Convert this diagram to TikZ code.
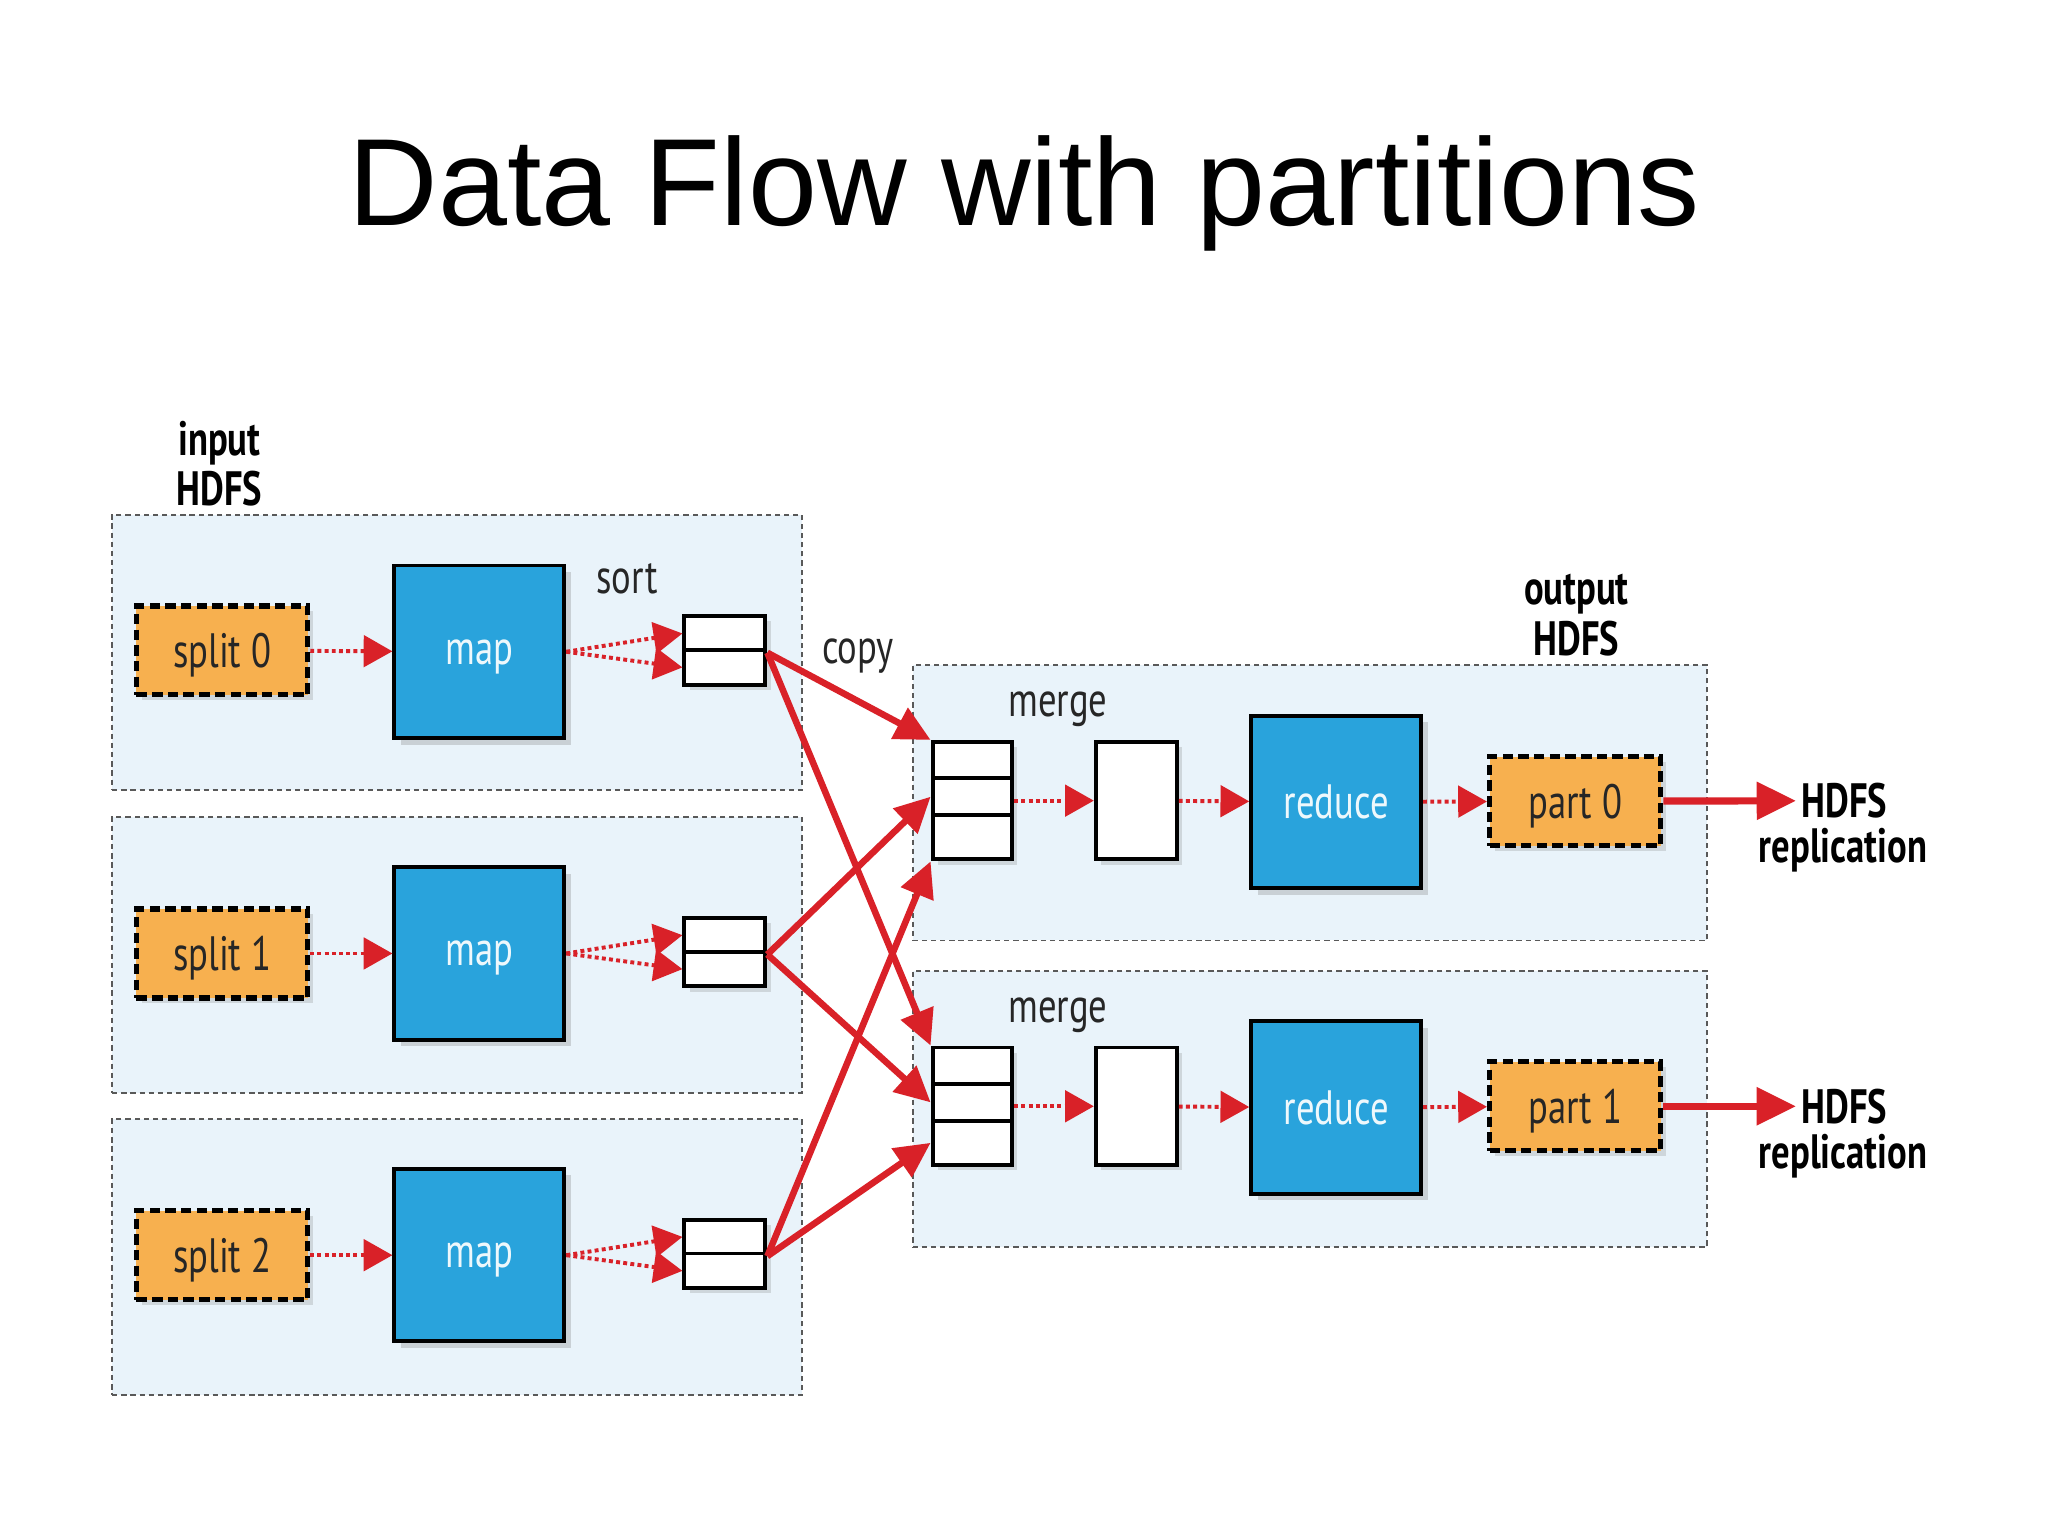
\documentclass[tikz,border=0pt]{standalone}
\usepackage{fontspec}
\setmainfont{Liberation Sans}
\newfontfamily\diagfont[FakeStretch=0.76]{PT Sans}
\usetikzlibrary{arrows.meta,shadows,calc}

\definecolor{bgblue}{RGB}{233,243,250}
\definecolor{mapblue}{RGB}{41,163,220}
\definecolor{splitorange}{RGB}{247,176,79}
\definecolor{flowred}{RGB}{217,33,40}

\begin{document}
\begin{tikzpicture}[x=0.01cm,y=-0.01cm,
  region/.style={draw=black!65,line width=0.015cm,dash pattern=on 0.04cm off 0.03cm,fill=bgblue,minimum height=2.11cm,inner sep=0pt},
  lab/.style={font=\diagfont\fontsize{10.5}{11}\selectfont,text=black!85,inner sep=1pt,align=center},
  boldlab/.style={lab,font=\diagfont\bfseries\fontsize{10.5}{11}\selectfont,text=black},
  splitbox/.style={lab,text depth=0pt,draw=black,fill=splitorange,line width=0.04cm,dash pattern=on 0.08cm off 0.04cm,minimum width=1.31cm,minimum height=0.68cm,drop shadow={shadow xshift=0.04cm,shadow yshift=-0.04cm,opacity=0.25}},
  mapbox/.style={lab,text depth=0pt,draw=black,fill=mapblue,text=white!92!mapblue,line width=0.03cm,minimum width=1.30cm,minimum height=1.32cm,drop shadow={shadow xshift=0.05cm,shadow yshift=-0.05cm,opacity=0.3}},
  cell/.style={draw=black,fill=white,line width=0.03cm,minimum width=0.62cm,inner sep=0pt,drop shadow={shadow xshift=0.04cm,shadow yshift=-0.04cm,opacity=0.25}},
  dotarrow/.style={draw=flowred,line width=0.03cm,dash pattern=on 0.03cm off 0.025cm,-{Triangle[length=0.22cm,width=0.24cm]}},
  copyarrow/.style={draw=flowred,line width=0.05cm,-{Triangle[length=0.27cm,width=0.26cm]}},
  outarrow/.style={draw=flowred,line width=0.055cm,-{Triangle[length=0.3cm,width=0.28cm]}}]
  \useasboundingbox (0,0) rectangle (1568,1176);
  % title
  \node[font=\fontsize{27}{32}\selectfont] (title) at (784,148) {Data Flow with partitions};
  % regions
  \node[region,minimum width=5.28cm] (in0) at (350,499.5) {};
  \node[region,minimum width=5.28cm] (in1) at (350,731) {};
  \node[region,minimum width=5.28cm] (in2) at (350,962.5) {};
  \node[region,minimum width=6.08cm] (out0) at (1003,614.5) {};
  \node[region,minimum width=6.08cm] (out1) at (1003,849) {};
  % labels
  \node[boldlab] (inlab) at (168,355) {input\\HDFS};
  \node[boldlab] (outlab) at (1207,471) {output\\HDFS};
  \node[lab] (sortlab) at (480,443) {sort};
  \node[lab] (copylab) at (657,502) {copy};
  \node[lab] (mlab0) at (810,543) {merge};
  \node[lab] (mlab1) at (810,777) {merge};
  % map side
  \node[splitbox] (sp0) at (170,498) {split 0};
  \node[splitbox] (sp1) at (170,730) {split 1};
  \node[splitbox] (sp2) at (170,961) {split 2};
  \node[mapbox] (mp0) at (367,499) {map};
  \node[mapbox] (mp1) at (367,730) {map};
  \node[mapbox] (mp2) at (367,961) {map};
  \node[cell,minimum height=0.265cm] (s0a) at (555,485) {};
  \node[cell,minimum height=0.265cm] (s0b) at (555,511) {};
  \node[cell,minimum height=0.265cm] (s1a) at (555,716) {};
  \node[cell,minimum height=0.265cm] (s1b) at (555,742) {};
  \node[cell,minimum height=0.265cm] (s2a) at (555,947) {};
  \node[cell,minimum height=0.265cm] (s2b) at (555,973) {};
  % reduce side
  \node[cell,minimum width=0.61cm,minimum height=0.28cm] (mg0a) at (744.5,582) {};
  \node[cell,minimum width=0.61cm,minimum height=0.28cm] (mg0b) at (744.5,610) {};
  \node[cell,minimum width=0.61cm,minimum height=0.34cm] (mg0c) at (744.5,641) {};
  \node[cell,minimum width=0.61cm,minimum height=0.28cm] (mg1a) at (744.5,816) {};
  \node[cell,minimum width=0.61cm,minimum height=0.28cm] (mg1b) at (744.5,844) {};
  \node[cell,minimum width=0.61cm,minimum height=0.34cm] (mg1c) at (744.5,875) {};
  \node[cell,minimum height=0.90cm] (wr0) at (870,613) {};
  \node[cell,minimum height=0.90cm] (wr1) at (870,847) {};
  \node[mapbox] (rd0) at (1023,614) {reduce};
  \node[mapbox] (rd1) at (1023,848) {reduce};
  \node[splitbox] (pt0) at (1206,613.5) {part 0};
  \node[splitbox] (pt1) at (1206,847) {part 1};
  \node[boldlab] (hd0) at (1412,613) {HDFS};
  \node[boldlab] (rp0) at (1411,651) {replication};
  \node[boldlab] (hd1) at (1412,847) {HDFS};
  \node[boldlab] (rp1) at (1411,885) {replication};
  % arrows
  \path [every edge/.append style=dotarrow] (sp0) edge (mp0) (mp0.east) edge (s0a.west) (mp0.east) edge (s0b.west);
  \path [every edge/.append style=dotarrow] (sp1) edge (mp1) (mp1.east) edge (s1a.west) (mp1.east) edge (s1b.west);
  \path [every edge/.append style=dotarrow] (sp2) edge (mp2) (mp2.east) edge (s2a.west) (mp2.east) edge (s2b.west);
  \path [every edge/.append style=copyarrow] (s0a.south east) edge (mg0a.north west) (s0a.south east) edge (mg1a.north west);
  \path [every edge/.append style=copyarrow] (s1a.south east) edge (mg0b.west) (s1a.south east) edge (mg1b.west);
  \path [every edge/.append style=copyarrow] (s2a.south east) edge (mg0c.south west) (s2a.south east) edge (mg1c.west);
  \path [every edge/.append style=dotarrow] (mg0b.east |- wr0) edge (wr0) (wr0) edge (rd0) (rd0) edge (pt0);
  \path [every edge/.append style=dotarrow] (mg1b.east |- wr1) edge (wr1) (wr1) edge (rd1) (rd1) edge (pt1);
  \path [every edge/.append style=outarrow] (pt0) edge (hd0) (pt1) edge (hd1);
\end{tikzpicture}
\end{document}
